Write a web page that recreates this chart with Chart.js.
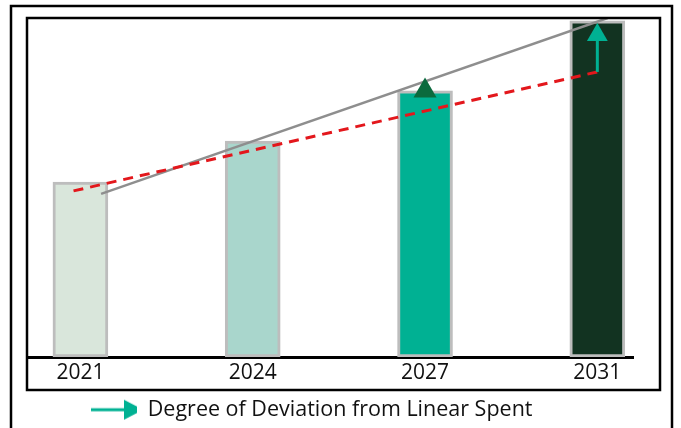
<!DOCTYPE html>
<html>
<head>
<meta charset="utf-8">
<script src="https://cdn.jsdelivr.net/npm/chart.js@4.4.0/dist/chart.umd.min.js"></script>
<style>
  html, body { margin: 0; padding: 0; background: #fff; }
</style>
</head>
<body>
<canvas id="chart" width="681" height="428"></canvas>
<script>
// Data (index scale 0..100, x = year position)
var years = ['2021', '2024', '2027', '2031'];
var barValues = [51.6, 63.7, 78.5, 99.2];
var barColors = ['#d9e6db', '#a9d6cc', '#00b193', '#123321'];

// trend lines, x is the year position (0 = 2021 ... 3 = 2031)
var actualX = [0.12, 3.06];
var actualY = [48.1, 100];
var linearX = [-0.04, 3];
var linearY = [49.0, 84.1];
// deviation arrow at 2031, from linear spend up to the arrow head
var deviationY = [84.1, 95.0];
var legendLabel = 'Degree of Deviation from Linear Spent';

function points(xs, ys) {
  return xs.map(function(x, i) { return {x: x, y: ys[i]}; });
}

// legend marker: teal arrow
var arrowImg = document.createElement('canvas');
arrowImg.width = 98;
arrowImg.height = 24;
var a = arrowImg.getContext('2d');
a.fillStyle = '#00b193';
a.fillRect(52, 10.5, 34, 3);
a.beginPath();
a.moveTo(85, 2);
a.lineTo(104, 12);
a.lineTo(85, 22);
a.closePath();
a.fill();

// the two black frames round the chart
var framePlugin = {
  id: 'frames',
  afterDraw: function(chart) {
    var ctx = chart.ctx;
    ctx.save();
    ctx.strokeStyle = '#000';
    ctx.lineWidth = 2.5;
    ctx.strokeRect(11, 6, 661, 440);
    ctx.strokeRect(27, 18, 633, 372);
    ctx.restore();
  }
};

new Chart(document.getElementById('chart'), {
  type: 'bar',
  data: {
    datasets: [
      {
        type: 'line',
        label: legendLabel,
        data: points([3, 3], deviationY),
        borderColor: '#00b193',
        borderWidth: 3,
        pointStyle: 'triangle',
        pointRadius: [0, 12],
        pointBackgroundColor: '#00b193',
        pointBorderWidth: 0,
        order: 1
      },
      {
        type: 'line',
        label: 'marker',
        data: [{x: 2, y: barValues[2]}],
        showLine: false,
        pointStyle: 'triangle',
        pointRadius: 13.3,
        pointBackgroundColor: '#0b6a3e',
        pointBorderWidth: 0,
        order: 2
      },
      {
        type: 'line',
        label: 'Linear spent',
        data: points(linearX, linearY),
        borderColor: '#e3171c',
        borderWidth: 3,
        borderDash: [10, 7],
        pointRadius: 0,
        order: 3
      },
      {
        type: 'line',
        label: 'Actual',
        data: points(actualX, actualY),
        borderColor: '#8e8e8e',
        borderWidth: 2.5,
        pointRadius: 0,
        order: 4
      },
      {
        label: 'Spend',
        data: barValues.map(function(v, i) { return {x: i, y: v}; }),
        backgroundColor: barColors,
        borderColor: '#bdbdbd',
        borderWidth: 3,
        borderSkipped: false,
        barThickness: 55,
        order: 10
      }
    ]
  },
  options: {
    responsive: false,
    animation: false,
    layout: { padding: { left: 27, right: 48, top: 18, bottom: 0 } },
    scales: {
      x: {
        type: 'linear',
        min: -0.31,
        max: 3.207,
        offset: false,
        grid: { display: false, drawTicks: false, offset: false },
        border: { display: true, color: '#000', width: 3 },
        afterBuildTicks: function(s) {
          s.ticks = years.map(function(y, i) { return {value: i}; });
        },
        afterFit: function(s) { s.height = 30; },
        ticks: {
          padding: 3,
          maxRotation: 0,
          autoSkip: false,
          color: '#111',
          font: { family: 'Open Sans', size: 21 },
          callback: function(v) { return years[v]; }
        }
      },
      y: { display: false, min: 0, max: 100 }
    },
    plugins: {
      tooltip: { enabled: false },
      legend: {
        position: 'bottom',
        align: 'start',
        maxHeight: 41,
        labels: {
          usePointStyle: true,
          pointStyle: arrowImg,
          pointStyleWidth: 98,
          padding: 12,
          color: '#111',
          font: { family: 'Open Sans', size: 21.5 },
          filter: function(item) { return item.text === legendLabel; }
        }
      }
    }
  },
  plugins: [framePlugin]
});
</script>
</body>
</html>
